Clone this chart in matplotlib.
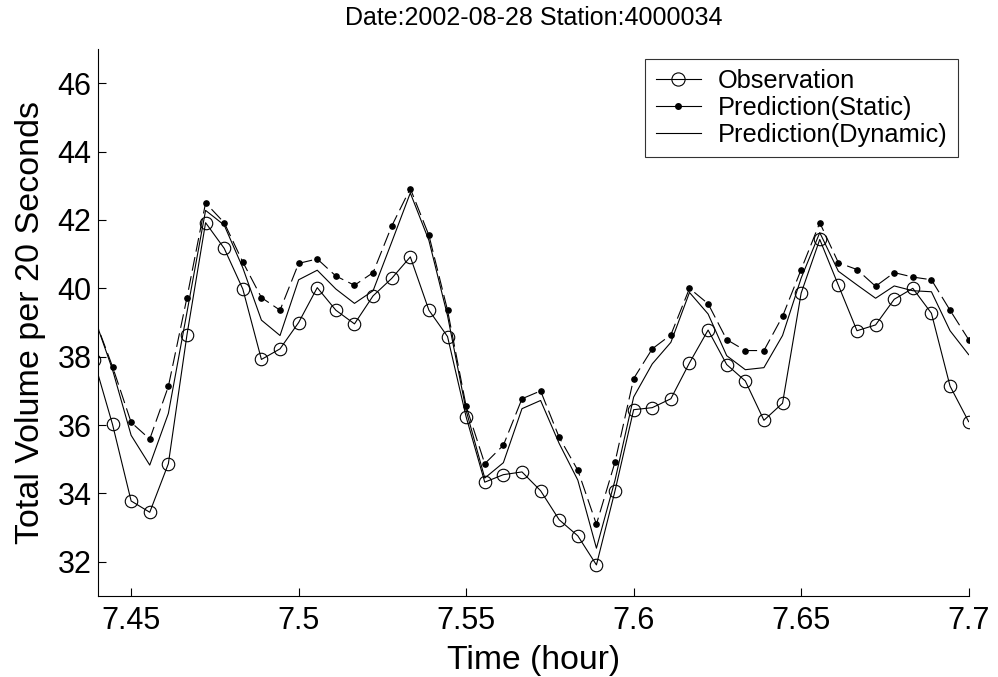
import numpy as np
import matplotlib
matplotlib.use("Agg")
import matplotlib.pyplot as plt
from matplotlib.lines import Line2D

plt.rcParams['font.family'] = ['Liberation Sans', 'DejaVu Sans']
plt.rcParams['lines.scale_dashes'] = False

# samples every 20 seconds (1/180 hour), starting two samples before 7.45
t_start = 7.45 - 2 / 180.0
n_samples = 48
time = t_start + np.arange(n_samples) / 180.0

observation = [37.9, 36.02, 33.78, 33.45, 34.87, 38.64, 41.92, 41.17, 39.98, 37.92,
               38.23, 39.0, 40.02, 39.36, 38.96, 39.78, 40.29, 40.92, 39.36, 38.59,
               36.24, 34.33, 34.55, 34.63, 34.08, 33.23, 32.76, 31.91, 34.08, 36.45,
               36.51, 36.77, 37.82, 38.78, 37.77, 37.29, 36.14, 36.64, 39.86, 41.43,
               40.09, 38.76, 38.93, 39.68, 40.0, 39.27, 37.14, 36.1]

static = [39.17, 37.71, 36.08, 35.59, 37.13, 39.73, 42.5, 41.92, 40.77, 39.73,
          39.36, 40.73, 40.86, 40.36, 40.09, 40.46, 41.82, 42.92, 41.55, 39.36,
          36.55, 34.87, 35.41, 36.77, 37.0, 35.64, 34.68, 33.1, 34.92, 37.36,
          38.23, 38.64, 40.0, 39.55, 38.5, 38.18, 38.18, 39.18, 40.55, 41.92,
          40.75, 40.55, 40.06, 40.46, 40.33, 40.25, 39.36, 38.5]

dynamic = [39.18, 37.62, 35.7, 34.83, 36.34, 39.3, 42.28, 41.85, 40.6, 39.07,
           38.62, 40.25, 40.53, 39.98, 39.56, 39.93, 41.35, 42.79, 41.4, 39.2,
           36.43, 34.45, 34.9, 36.48, 36.72, 35.46, 34.39, 32.4, 34.39, 36.82,
           37.79, 38.42, 39.88, 39.25, 38.03, 37.62, 37.68, 38.62, 40.3, 41.63,
           40.5, 40.1, 39.71, 40.07, 39.93, 39.9, 38.76, 38.06]

xticks = [7.45, 7.5, 7.55, 7.6, 7.65, 7.7]
xtick_labels = ['7.45', '7.5', '7.55', '7.6', '7.65', '7.7']
yticks = [32, 34, 36, 38, 40, 42, 44, 46]

fig = plt.figure(figsize=(9.98, 6.77), dpi=100)
ax = fig.add_axes([0.0985, 0.1196, 0.8721, 0.808])

ax.plot(time, observation, color='black', lw=0.8, marker='o', markersize=9,
        markerfacecolor='none', markeredgewidth=0.8)
ax.plot(time, static, color='black', lw=0.8, marker='o', markersize=3.8,
        linestyle=(0, (10, 4)))
ax.plot(time, dynamic, color='black', lw=0.8)

ax.set_xlim(7.4402, 7.7)
ax.set_ylim(31, 47)
ax.set_xticks(xticks)
ax.set_xticklabels(xtick_labels)
ax.set_yticks(yticks)
ax.tick_params(direction='in', length=6, width=0.8, labelsize=22)
ax.tick_params(axis='y', pad=5)
ax.tick_params(axis='x', pad=7)
for side in ['top', 'right']:
    ax.spines[side].set_visible(False)

ax.set_title('Date:2002-08-28 Station:4000034', fontsize=18, pad=17)
ax.set_xlabel('Time (hour)', fontsize=24.3, labelpad=7)
ax.set_ylabel('Total Volume per 20 Seconds', fontsize=24.5, labelpad=8)

handles = [
    Line2D([], [], color='black', lw=0.8, marker='o', markersize=9.5,
           markerfacecolor='none', markeredgewidth=0.8),
    Line2D([], [], color='black', lw=0.8, marker='o', markersize=4),
    Line2D([], [], color='black', lw=0.8),
]
leg = ax.legend(handles, ['Observation', 'Prediction(Static)', 'Prediction(Dynamic)'],
                loc='upper right', bbox_to_anchor=(0.9875, 0.982), fontsize=18.3,
                frameon=True, fancybox=False, handlelength=1.8, handletextpad=0.65,
                labelspacing=0.12, borderpad=0.4, borderaxespad=0)
leg.get_frame().set_edgecolor('black')
leg.get_frame().set_linewidth(0.8)

fig.savefig('out.png', dpi=100)
